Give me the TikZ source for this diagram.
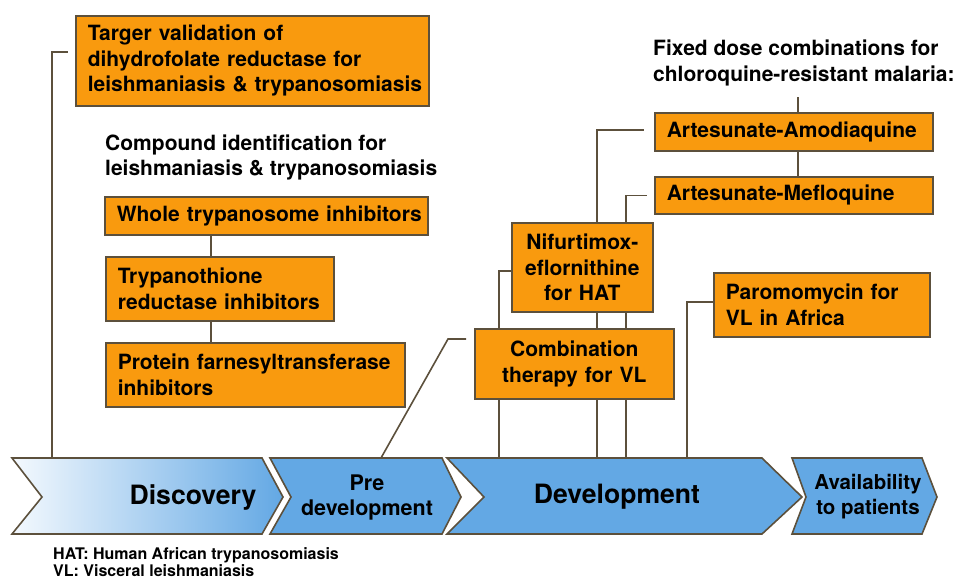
\documentclass[tikz,border=0pt]{standalone}
\usepackage{fontspec}
\setmainfont{TeX Gyre Heros}
\usetikzlibrary{backgrounds}
\definecolor{orng}{RGB}{249,154,14}
\definecolor{edge}{RGB}{92,80,60}
\definecolor{blu}{RGB}{99,168,228}
\definecolor{lblu}{RGB}{244,249,254}
\newcommand\nobrk{\hyphenpenalty=10000 \exhyphenpenalty=10000 \hbadness=10000 \hfuzz=50pt\relax}
\begin{document}
\begin{tikzpicture}[x=1pt,y=-1pt,
  box/.style={draw=edge, fill=orng, line width=1.6pt, anchor=north west,
    inner xsep=12pt, inner ysep=0pt, align=left,
    font=\fontsize{21}{25.5}\selectfont\bfseries, execute at begin node=\nobrk},
  cbox/.style={box, align=center},
  conn/.style={draw=edge, line width=1.6pt},
  chev/.style={draw=edge, line width=1.6pt, line join=miter, fill=blu},
  head/.style={anchor=north west, inner sep=0pt, align=left,
    font=\fontsize{21}{25.5}\selectfont\bfseries},
  note/.style={anchor=north west, inner sep=0pt, align=left,
    font=\fontsize{16}{17}\selectfont\bfseries},
  big/.style={inner sep=0pt, align=center, font=\fontsize{26.6}{30}\selectfont\bfseries},
  mid/.style={inner sep=0pt, align=center, font=\fontsize{21.5}{25}\selectfont\bfseries}
]
\useasboundingbox (0,0) rectangle (959,582);

% chevrons
\draw[draw=edge, line width=1.6pt, line join=miter, left color=lblu, right color=blu]
  (12,458) -- (262,458) -- (283,497) -- (262,534) -- (12,534) -- (42,497) -- cycle;
\draw[chev] (270,458) -- (442,458) -- (461,497) -- (442,534) -- (270,534) -- (291,497) -- cycle;
\draw[chev] (447,458) -- (762,458) -- (802,497) -- (762,534) -- (447,534) -- (484,497) -- cycle;
\draw[chev] (792,458) -- (922,458) -- (937,497) -- (922,534) -- (792,534) -- (806,497) -- cycle;

\node[big] (disc) at (193,497) {Discovery};
\node[mid] (pre) at (367,497) {Pre\\development};
\node[big] (dev) at (617,497) {Development};
\node[mid, font=\fontsize{20.5}{25}\selectfont\bfseries] (avail) at (868,497) {Availability\\to~patients};

\coordinate (dtop) at (52,458);
\coordinate (ptop) at (381,458);
\coordinate (v0) at (499,458);
\coordinate (v1) at (597,458);
\coordinate (v2) at (626,458);
\coordinate (v3) at (687,458);

% boxes
\node[box, text width=329pt, minimum height=90pt] (tv) at (75,15)
  {Targer~validation~of\\dihydrofolate~reductase~for\\leishmaniasis~\&~trypanosomiasis};
\node[head] (ci) at (105,134.5)
  {Compound identification for\\leishmaniasis \& trypanosomiasis};
\node[box, text width=299pt, minimum height=38pt] (wt) at (104,196)
  {Whole~trypanosome~inhibitors};
\node[box, text width=204pt, minimum height=64pt] (tr) at (105,256)
  {Trypanothione\\reductase~inhibitors};
\node[box, text width=275pt, minimum height=64pt] (pf) at (105,342)
  {Protein~farnesyltransferase\\inhibitors};

\node[head] (fd) at (653,40)
  {Fixed dose combinations for\\chloroquine-resistant malaria:};
\node[box, text width=254pt, minimum height=38pt] (aa) at (654,112)
  {Artesunate-Amodiaquine};
\node[box, text width=254pt, minimum height=37pt] (am) at (654,176)
  {Artesunate-Mefloquine};
\node[cbox, text width=117pt, minimum height=89pt] (nif) at (511,222)
  {Nifurtimox-\\eflornithine\\for~HAT};
\node[cbox, text width=175pt, minimum height=70pt] (comb) at (474,328)
  {Combination\\therapy~for~VL};
\node[box, text width=192pt, minimum height=64pt] (par) at (713,272)
  {Paromomycin~for\\VL~in~Africa};

\node[note] (fn) at (53,547)
  {HAT: Human African trypanosomiasis\\VL: Visceral leishmaniasis};

% connectors
\begin{pgfonlayer}{background}
\draw[conn] (dtop) |- ([xshift=-7pt,yshift=-37pt]tv.north west);
\draw[conn] ([xshift=-9pt]tr.north) -- ([xshift=-9pt]tr.north |- wt.south);
\draw[conn] ([xshift=-9pt]tr.south) -- ([xshift=-9pt]tr.south |- pf.north);
\draw[conn] (ptop) -- ([xshift=-26pt,yshift=-11pt]comb.north west)
  -- ([xshift=-8pt,yshift=-11pt]comb.north west);
\draw[conn] (v0) |- ([yshift=-3.5pt]nif.west);
\draw[conn] (v1) |- ([xshift=-10pt,yshift=2pt]aa.west);
\draw[conn] (v2) |- ([xshift=-7pt]am.west);
\draw[conn] (v3) |- ([yshift=3pt]par.west);
\coordinate (fdend) at (798,97);
\draw[conn] (fdend) -- (fdend |- aa.north);
\draw[conn] (fdend |- aa.south) -- (fdend |- am.north);
\end{pgfonlayer}
\end{tikzpicture}
\end{document}
